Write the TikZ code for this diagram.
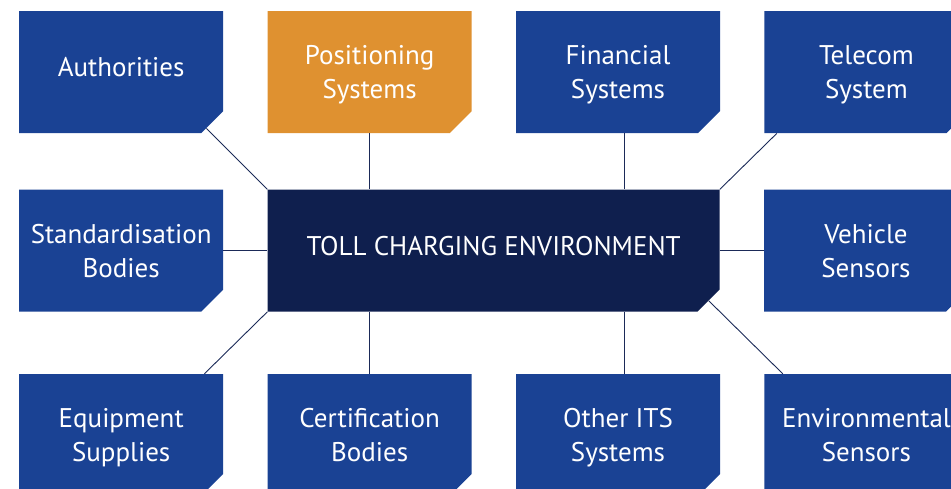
\documentclass[tikz,border=0pt]{standalone}
\usepackage{fontspec}
\setmainfont{PT Sans}
\usetikzlibrary{positioning}

\definecolor{boxblue}{HTML}{1A4294}
\definecolor{boxorange}{HTML}{DF9130}
\definecolor{boxdark}{HTML}{0F1F4E}
\definecolor{linkcol}{HTML}{1B2A58}

\tikzstyle{block} = [rectangle, color=boxblue, text=white, align=center,
    inner sep=0pt, minimum width=204pt, minimum height=122pt, text depth=0pt,
    font=\fontsize{27}{34}\selectfont,
    path picture={\fill (path picture bounding box.north west)
        -- (path picture bounding box.north east)
        -- ([yshift=22pt]path picture bounding box.south east)
        -- ([xshift=-22pt]path picture bounding box.south east)
        -- (path picture bounding box.south west) -- cycle;}]
\tikzstyle{oneline} = [text depth=11pt]
\tikzstyle{hub} = [block, color=boxdark, text=white, minimum width=452pt, text depth=9pt]
\tikzstyle{link} = [draw=linkcol, line width=0.9pt]

\begin{document}
\begin{tikzpicture}[node distance=44pt]
    \useasboundingbox (0,0) rectangle (951pt,-489pt);
    \clip (0,0) rectangle (951pt,-489pt);

    \node [block, oneline, anchor=north west] (auth) at (19pt,-11pt) {Authorities};
    \node [block, color=boxorange, text=white, right=of auth] (pos) {Positioning\\Systems};
    \node [block, right=of pos] (fin) {Financial\\Systems};
    \node [block, right=of fin] (tele) {Telecom\\System};
    \node [block, below=56pt of auth] (stand) {Standardisation\\Bodies};
    \node [hub, right=of stand] (center) {TOLL CHARGING ENVIRONMENT};
    \node [block, right=of center] (vehicle) {Vehicle\\Sensors};
    \node [block, below=62pt of stand] (equip) {Equipment\\Supplies};
    \node [block, right=of equip] (cert) {Certification\\Bodies};
    \node [block, right=of cert] (its) {Other ITS\\Systems};
    \node [block, right=of its] (env) {Environmental\\Sensors};

    % feet of the slanted links
    \coordinate (authfoot) at ([shift={(-61pt,61pt)}]center.north west);
    \coordinate (telefoot) at ([shift={(57pt,56pt)}]center.north east);
    \coordinate (equipfoot) at ([shift={(-63pt,-62pt)}]center.south west);
    \coordinate (hubcut) at ([shift={(-11pt,11pt)}]center.south east);
    \coordinate (envfoot) at ([shift={(74pt,-73pt)}]hubcut);

    \draw [link] (center.north west) -- (authfoot);
    \draw [link] (center.north east) -- (telefoot);
    \draw [link] (center.south west) -- (equipfoot);
    \draw [link] (hubcut) -- (envfoot);

    \draw [link] (pos.south) -- (pos.south |- center.north);
    \draw [link] ([xshift=6pt]fin.south) -- ([xshift=6pt]fin.south |- center.north);
    \draw [link] (cert.north) -- (cert.north |- center.south);
    \draw [link] ([xshift=6pt]its.north) -- ([xshift=6pt]its.north |- center.south);
    \draw [link] (stand.east) -- (center.west);
    \draw [link] (center.east) -- (vehicle.west);
\end{tikzpicture}
\end{document}
